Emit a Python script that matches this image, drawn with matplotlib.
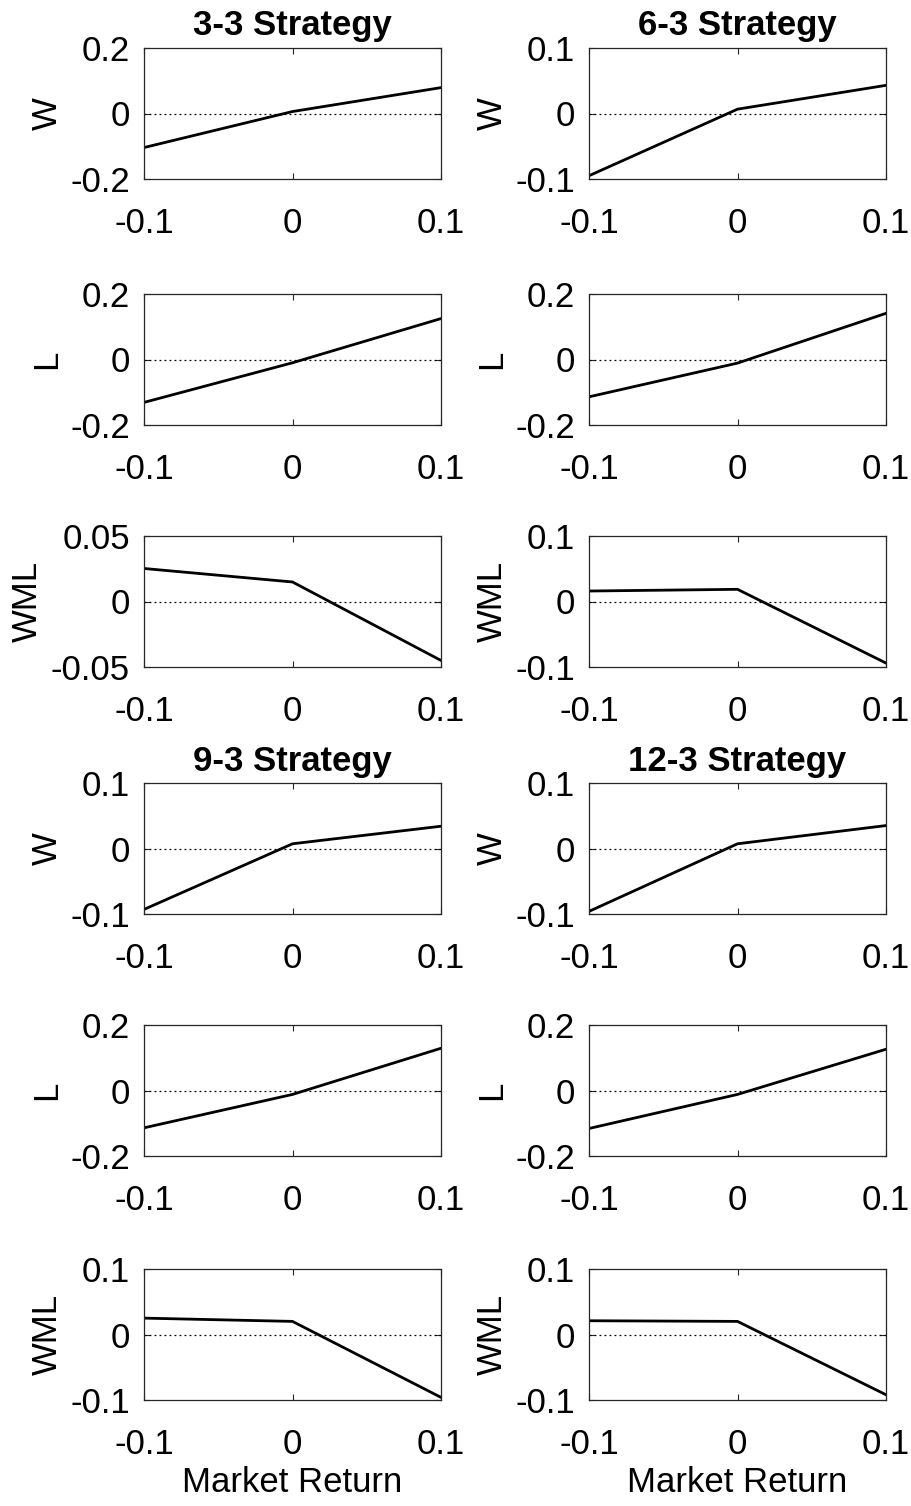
import numpy as np
import matplotlib.pyplot as plt

plt.rcParams['font.family'] = ['Liberation Sans', 'DejaVu Sans']

# market return grid
mkt = [-0.1, 0.0, 0.1]

strategies = ["3-3 Strategy", "6-3 Strategy", "9-3 Strategy", "12-3 Strategy"]

# winner / loser / winner-minus-loser responses
w_vals = [
    [-0.104, 0.006, 0.079],
    [-0.095, 0.0066, 0.043],
    [-0.093, 0.0072, 0.034],
    [-0.096, 0.0072, 0.035],
]
l_vals = [
    [-0.131, -0.010, 0.125],
    [-0.114, -0.011, 0.141],
    [-0.114, -0.012, 0.129],
    [-0.116, -0.012, 0.126],
]
wml_vals = [
    [0.0252, 0.0149, -0.045],
    [0.016, 0.0186, -0.094],
    [0.025, 0.020, -0.096],
    [0.021, 0.020, -0.092],
]

# y limits per strategy and panel (W, L, WML)
ylims = [
    [0.2, 0.2, 0.05],
    [0.1, 0.2, 0.1],
    [0.1, 0.2, 0.1],
    [0.1, 0.2, 0.1],
]
ylabels = ["W", "L", "WML"]

W, H = 911, 1506
fig = plt.figure(figsize=(W / 100, H / 100), dpi=100)

col_x = [144, 589]
ax_w = 297
row_top = [48, 294, 536, 783, 1025, 1269]
ax_h = 131

FS = 25


def tick_fmt(v):
    if abs(v) < 1e-12:
        return "0"
    return f"{v:g}"


for k, name in enumerate(strategies):
    col = k % 2
    block = k // 2
    series = [w_vals[k], l_vals[k], wml_vals[k]]
    for j in range(3):
        r = block * 3 + j
        left = col_x[col] / W
        bottom = 1 - (row_top[r] + ax_h) / H
        ax = fig.add_axes([left, bottom, ax_w / W, ax_h / H])
        ax.plot(mkt, series[j], color='black', lw=2.0, solid_joinstyle='miter')
        ax.axhline(0, color='black', lw=0.9, linestyle=(0, (1.5, 2.5)))
        lim = ylims[k][j]
        ax.set_xlim(-0.1, 0.1)
        ax.set_ylim(-lim, lim)
        ax.set_xticks(mkt)
        ax.set_xticklabels([tick_fmt(v) for v in mkt])
        yt = [-lim, 0, lim]
        ax.set_yticks(yt)
        ax.set_yticklabels([tick_fmt(v) for v in yt])
        ax.tick_params(direction='in', length=4, width=0.8, labelsize=FS,
                       top=True, right=True, color='#262626')
        ax.tick_params(axis='x', pad=20)
        ax.tick_params(axis='y', pad=10)
        for sp in ax.spines.values():
            sp.set_linewidth(0.9)
            sp.set_color('#262626')
        ax.set_ylabel(ylabels[j], fontsize=FS, labelpad=5)
        if j == 0:
            ax.set_title(name, fontsize=FS, fontweight='bold', pad=9)
        if r == 5:
            ax.set_xlabel("Market Return", fontsize=FS, labelpad=4)

fig.savefig("out.png", dpi=100, facecolor='white')
